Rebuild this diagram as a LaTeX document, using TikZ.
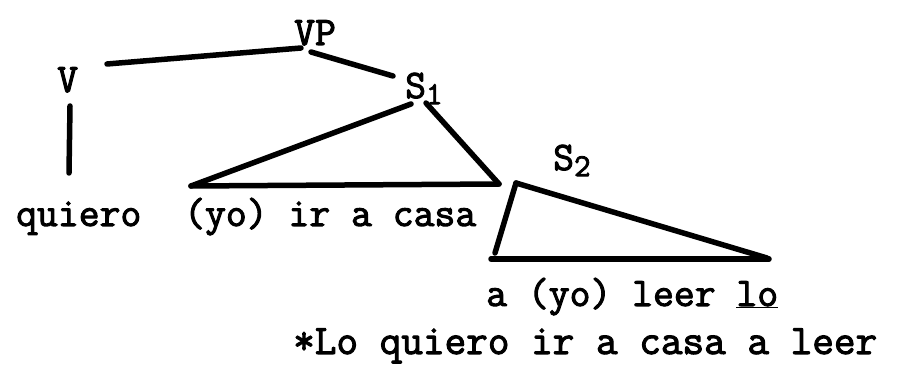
\documentclass[tikz,border=0pt]{standalone}
\usepackage{fontspec}
\setmonofont{Latin Modern Mono}[BoldFont=Latin Modern Mono,BoldFeatures={FakeBold=2.5}]
\begin{document}
\begin{tikzpicture}[x=1pt,y=-1pt,
  lbl/.style={font=\ttfamily\bfseries\fontsize{40.5}{40.5}\selectfont, inner sep=0pt, anchor=base west},
  big/.style={lbl, font=\ttfamily\bfseries\fontsize{42}{42}\selectfont},
  edge/.style={line width=5.5pt, line cap=round}]
\useasboundingbox (0,0) rectangle (903,371);
% labels
\node[lbl] (vp) at (294,45) {VP};
\node[lbl] (v) at (57,92) {V};
\node[lbl] (s1) at (405,98) {S\raisebox{-0.35ex}{\fontsize{32}{32}\selectfont 1}};
\node[lbl] (s2) at (553,170) {S\raisebox{-0.35ex}{\fontsize{32}{32}\selectfont 2}};
\node[lbl] (quiero) at (16,226) {quiero};
\node[lbl] (yo1) at (184,226) {(yo) ir a casa};
\node[lbl] (yo2) at (486,306) {a (yo) leer \underline{lo}};
\node[big] (star) at (293,354) {*Lo quiero ir a casa a leer};
% coordinates
\coordinate (vpL) at (107,64);
\coordinate (vpR) at (301,48);
\coordinate (vpS) at (311,52);
\coordinate (s1T) at (393,76);
\coordinate (vT) at (70,106);
\coordinate (vB) at (69,173);
\coordinate (s1A) at (411,104);
\coordinate (s1B) at (426,103);
\coordinate (t1L) at (191,186);
\coordinate (t1R) at (499,184);
\coordinate (s2A) at (516,183);
\coordinate (s2L) at (495,253);
\coordinate (s2R) at (767,258);
\coordinate (t2L) at (491,259);
\coordinate (t2R) at (769,259);
% edges
\draw[edge] (vpL) -- (vpR);
\draw[edge] (vpS) -- (s1T);
\draw[edge] (vT) -- (vB);
\draw[edge] (s1A) -- (t1L);
\draw[edge] (t1L) -- (t1R);
\draw[edge] (s1B) -- (t1R);
\draw[edge] (s2A) -- (s2L);
\draw[edge] (s2A) -- (s2R);
\draw[edge] (t2L) -- (t2R);
\end{tikzpicture}
\end{document}
